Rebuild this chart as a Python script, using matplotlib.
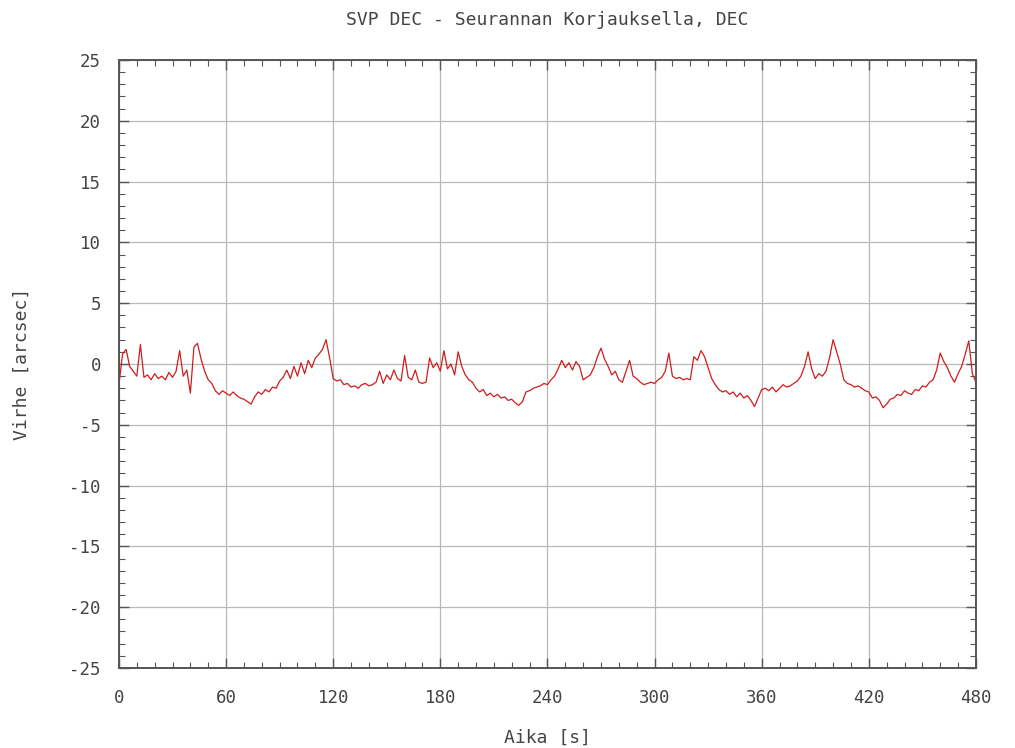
import numpy as np
import matplotlib
matplotlib.use("Agg")
import matplotlib.pyplot as plt
from matplotlib.ticker import MultipleLocator

title = "SVP DEC - Seurannan Korjauksella, DEC"
xlabel = "Aika [s]"
ylabel = "Virhe [arcsec]"

time_s = list(range(0, 481, 2))
error_arcsec = [
    -1.7, 0.8, 1.2, -0.2, -0.6, -1.0, 1.6, -1.1, -0.9, -1.3,
    -0.8, -1.2, -1.0, -1.3, -0.7, -1.1, -0.6, 1.1, -1.0, -0.5,
    -2.4, 1.4, 1.7, 0.4, -0.6, -1.3, -1.6, -2.2, -2.5, -2.2,
    -2.4, -2.6, -2.3, -2.6, -2.8, -2.9, -3.1, -3.3, -2.7, -2.3,
    -2.5, -2.1, -2.3, -1.9, -2.0, -1.4, -1.1, -0.5, -1.2, -0.2,
    -1.0, 0.1, -0.8, 0.3, -0.3, 0.5, 0.8, 1.2, 2.0, 0.5,
    -1.2, -1.4, -1.3, -1.7, -1.6, -1.9, -1.8, -2.0, -1.7, -1.6,
    -1.8, -1.7, -1.5, -0.6, -1.6, -0.9, -1.3, -0.5, -1.2, -1.4,
    0.7, -1.1, -1.3, -0.5, -1.5, -1.6, -1.5, 0.5, -0.3, 0.1,
    -0.6, 1.1, -0.4, 0.0, -0.9, 1.0, -0.2, -0.9, -1.3, -1.5,
    -2.0, -2.3, -2.1, -2.6, -2.4, -2.7, -2.5, -2.8, -2.7, -3.0,
    -2.9, -3.2, -3.4, -3.1, -2.3, -2.2, -2.0, -1.9, -1.8, -1.6,
    -1.7, -1.3, -1.0, -0.4, 0.3, -0.3, 0.1, -0.5, 0.2, -0.2,
    -1.3, -1.1, -0.9, -0.3, 0.6, 1.3, 0.4, -0.2, -0.9, -0.6,
    -1.3, -1.5, -0.6, 0.3, -1.0, -1.2, -1.5, -1.7, -1.6, -1.5,
    -1.6, -1.3, -1.1, -0.6, 0.9, -1.0, -1.2, -1.1, -1.3, -1.2,
    -1.3, 0.6, 0.3, 1.1, 0.6, -0.3, -1.2, -1.7, -2.1, -2.3,
    -2.2, -2.5, -2.3, -2.7, -2.4, -2.8, -2.6, -3.0, -3.5, -2.8,
    -2.1, -2.0, -2.2, -1.9, -2.3, -2.0, -1.7, -1.9, -1.8, -1.6,
    -1.4, -1.0, -0.2, 1.0, -0.4, -1.2, -0.8, -1.0, -0.6, 0.5,
    2.0, 1.0, 0.0, -1.3, -1.6, -1.7, -1.9, -1.8, -2.0, -2.2,
    -2.3, -2.8, -2.7, -3.0, -3.6, -3.3, -2.9, -2.8, -2.5, -2.6,
    -2.2, -2.4, -2.5, -2.1, -2.2, -1.8, -1.9, -1.5, -1.3, -0.5,
    0.9, 0.2, -0.3, -1.0, -1.5, -0.8, -0.2, 0.8, 1.9, -0.8,
    -1.5,
]
x_ticks = [0, 60, 120, 180, 240, 300, 360, 420, 480]
y_ticks = [-25, -20, -15, -10, -5, 0, 5, 10, 15, 20, 25]

plt.rcParams['font.family'] = ['DejaVu Sans Mono']
plt.rcParams['axes.unicode_minus'] = False
fig = plt.figure(figsize=(10.15, 7.48), dpi=100)
ax = fig.add_axes([0.1172, 0.107, 0.8443, 0.8128])

ax.plot(time_s, error_arcsec, color='#d01c1c', linewidth=0.9)

ax.set_xlim(0, 480)
ax.set_ylim(-25, 25)
ax.set_xticks(x_ticks)
ax.set_yticks(y_ticks)
ax.xaxis.set_minor_locator(MultipleLocator(10))
ax.yaxis.set_minor_locator(MultipleLocator(1))
ax.grid(True, which='major', color='#b8b8b8', linewidth=0.9)
ax.tick_params(which='both', direction='in', top=True, right=True, colors='#555555',
               labelcolor='#444444', labelsize=12.5)
ax.tick_params(which='major', length=7, width=1.0)
ax.tick_params(which='minor', length=4, width=0.8)
ax.tick_params(axis='x', which='major', pad=15)
ax.tick_params(axis='y', which='major', pad=13)
for s in ax.spines.values():
    s.set_color('#555555')
    s.set_linewidth(1.4)

ax.set_title(title, fontsize=13, color='#444444', pad=25)
ax.set_xlabel(xlabel, fontsize=13, color='#444444')
ax.set_ylabel(ylabel, fontsize=13, color='#444444')
ax.xaxis.set_label_coords(0.5, -0.115)
ax.yaxis.set_label_coords(-0.113, 0.5)
ax.xaxis.label.set_va('center')
ax.yaxis.label.set_va('center')

fig.savefig('out.png', dpi=100)
